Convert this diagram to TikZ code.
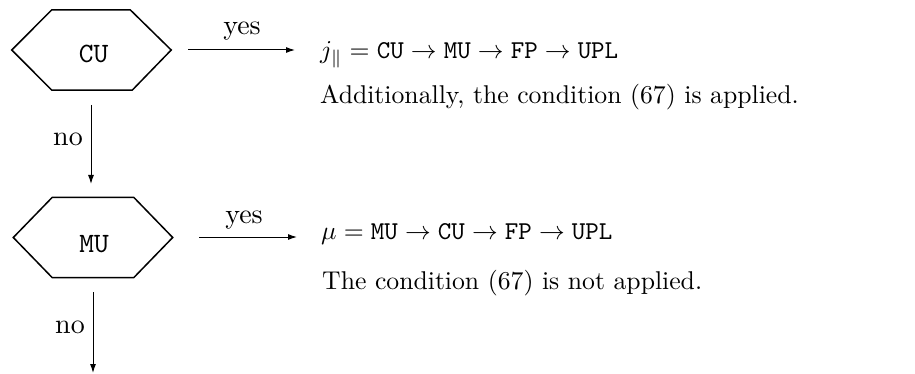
\documentclass[tikz,border=0pt]{standalone}
\usepackage{graphicx}
\usetikzlibrary{arrows.meta}
\newcommand\bigtxt[1]{\scalebox{2.57}{#1}}
\newcommand\lbltxt[1]{\scalebox{2.8}{#1}}
\begin{document}
\begin{tikzpicture}[x=1pt,y=-1pt,
  every node/.style={font=\normalsize, inner sep=0pt},
  hexbox/.style={minimum width=159pt, minimum height=80pt, inner sep=0pt},
  hexline/.style={line width=1.5pt, line join=miter},
  conn/.style={line width=1pt, -{Latex[length=9pt,width=6pt]}},
  lbl/.style={anchor=base},
  txt/.style={anchor=base west}]
\useasboundingbox (0,0) rectangle (915,374);
% decision nodes
\node[hexbox] (cu) at (91.5,50) {};
\node[lbl] at (93.5,63) (cut) {\lbltxt{$\mathtt{CU}$}};
\draw[hexline] (cu.west) -- ([xshift=40pt]cu.north west) -- ([xshift=-41pt]cu.north east)
  -- (cu.east) -- ([xshift=-39pt]cu.south east) -- ([xshift=40pt]cu.south west) -- cycle;
\node[hexbox] (mu) at (93,237.5) {};
\node[lbl] at (94,252) (mut) {\lbltxt{$\mathtt{MU}$}};
\draw[hexline] (mu.west) -- ([xshift=39pt]mu.north west) -- ([xshift=-39pt]mu.north east)
  -- (mu.east) -- ([xshift=-39pt]mu.south east) -- ([xshift=39pt]mu.south west) -- cycle;
% connector ends
\coordinate (y1s) at (188,50);
\coordinate (y1e) at (295,50);
\coordinate (n1s) at (91,105);
\coordinate (n1e) at (91,184);
\coordinate (y2s) at (199,237);
\coordinate (y2e) at (297,237);
\coordinate (n2s) at (93,292);
\coordinate (n2e) at (93,373);
\draw[conn] (y1s) -- (y1e);
\draw[conn] (n1s) -- (n1e);
\draw[conn] (y2s) -- (y2e);
\draw[conn] (n2s) -- (n2e);
% labels
\node[lbl] (yes1) at (242,35) {\lbltxt{yes}};
\node[lbl] (no1) at (68,146) {\lbltxt{no}};
\node[lbl] (yes2) at (244,223) {\lbltxt{yes}};
\node[lbl] (no2) at (70,333) {\lbltxt{no}};
% texts
\node[txt] (t1a) at (320,59) {\bigtxt{$j_{\|} = \mathtt{CU} \to \mathtt{MU} \to \mathtt{FP} \to \mathtt{UPL}$}};
\node[txt] (t1b) at (320,104) {\bigtxt{Additionally, the condition (67) is applied.}};
\node[txt] (t2a) at (321,239) {\bigtxt{$\mu = \mathtt{MU} \to \mathtt{CU} \to \mathtt{FP} \to \mathtt{UPL}$}};
\node[txt] (t2b) at (322,289) {\bigtxt{The condition (67) is not applied.}};
\end{tikzpicture}
\end{document}
